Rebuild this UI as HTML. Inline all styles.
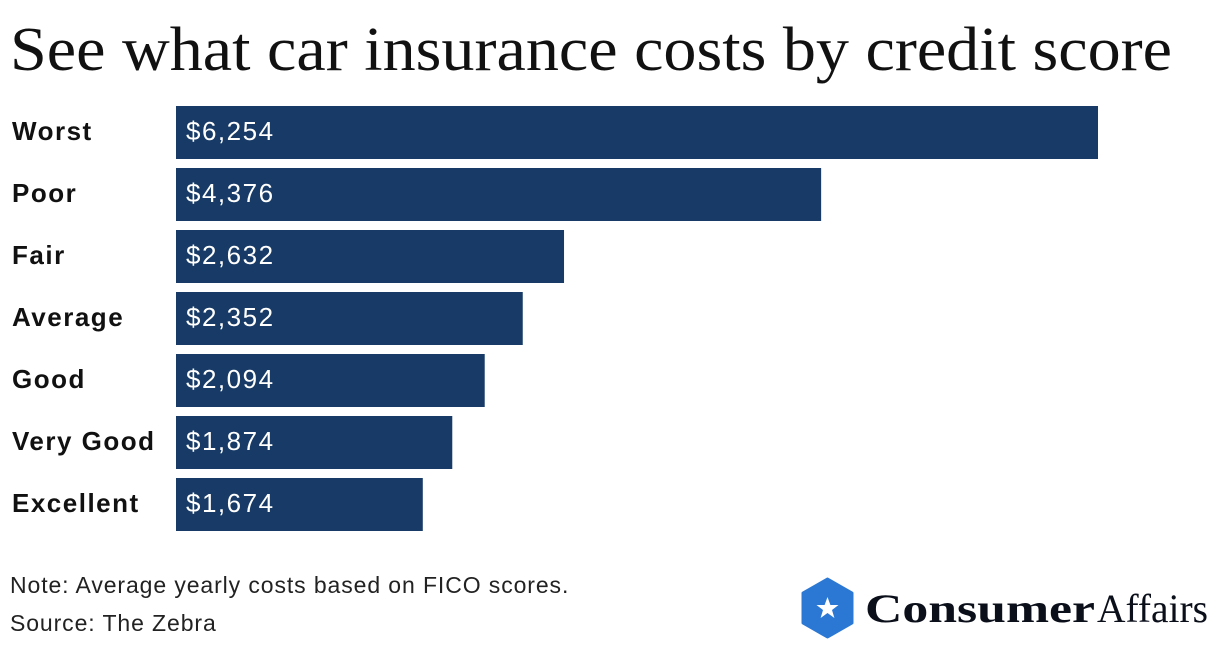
<!DOCTYPE html>
<html><head><meta charset="utf-8"><style>
body{margin:0;background:#fff;}
svg{display:block;}
</style></head><body>
<svg id="chart" width="1220" height="648" viewBox="0 0 1220 648">
<text x="10" y="70" font-family="Liberation Serif, serif" font-size="62" fill="#111" textLength="1162" lengthAdjust="spacingAndGlyphs">See what car insurance costs by credit score</text>
<g id="bars"></g>
<text x="10" y="593" font-family="Liberation Sans, sans-serif" font-size="23" letter-spacing="0.9" fill="#222">Note: Average yearly costs based on FICO scores.</text>
<text x="10" y="631" font-family="Liberation Sans, sans-serif" font-size="23" letter-spacing="0.9" fill="#222">Source: The Zebra</text>
<g>
<polygon points="827.5,579 852,593 852,623 827.5,637 803,623 803,593" fill="#2b78d4" stroke="#2b78d4" stroke-width="3" stroke-linejoin="round"/>
<polygon points="827.5,597 830.4,605 838.5,605 832,610 834.4,618 827.5,613 820.6,618 823,610 816.5,605 824.6,605" fill="#fff"/>
<text x="865" y="622" font-family="Liberation Serif, serif" font-size="40" font-weight="bold" fill="#0b0f1a" textLength="230" lengthAdjust="spacingAndGlyphs">Consumer</text>
<text x="1097" y="622" font-family="Liberation Serif, serif" font-size="40" fill="#0b0f1a" textLength="111" lengthAdjust="spacingAndGlyphs">Affairs</text>
</g>
</svg>
<script>
const categories = ["Worst","Poor","Fair","Average","Good","Very Good","Excellent"];
const values = [6254,4376,2632,2352,2094,1874,1674];
const valueLabels = ["$6,254","$4,376","$2,632","$2,352","$2,094","$1,874","$1,674"];
const ns = "http://www.w3.org/2000/svg";
const x0 = 176, maxW = 922, maxV = 6254;
const xScale = v => v / maxV * maxW;
const yScale = i => 106 + i * 62;
const g = document.getElementById('bars');
categories.forEach((c, i) => {
  const y = yScale(i);
  const r = document.createElementNS(ns, 'rect');
  r.setAttribute('x', x0); r.setAttribute('y', y);
  r.setAttribute('width', xScale(values[i])); r.setAttribute('height', 53);
  r.setAttribute('fill', '#173a66');
  
  
  g.appendChild(r);
  const l = document.createElementNS(ns, 'text');
  l.setAttribute('x', 12); l.setAttribute('y', y + 34);
  l.setAttribute('font-family', 'Liberation Sans, sans-serif');
  l.setAttribute('font-size', '26'); l.setAttribute('font-weight', 'bold'); l.setAttribute('fill', '#111');
  l.setAttribute('letter-spacing', '1.5');
  l.textContent = c;
  
  
  g.appendChild(l);
  const v = document.createElementNS(ns, 'text');
  v.setAttribute('x', x0 + 10); v.setAttribute('y', y + 34);
  v.setAttribute('font-family', 'Liberation Sans, sans-serif');
  v.setAttribute('font-size', '26'); v.setAttribute('fill', '#fff');
  v.setAttribute('letter-spacing', '1.5');
  v.textContent = valueLabels[i];
  
  
  g.appendChild(v);
});
</script>
</body></html>
